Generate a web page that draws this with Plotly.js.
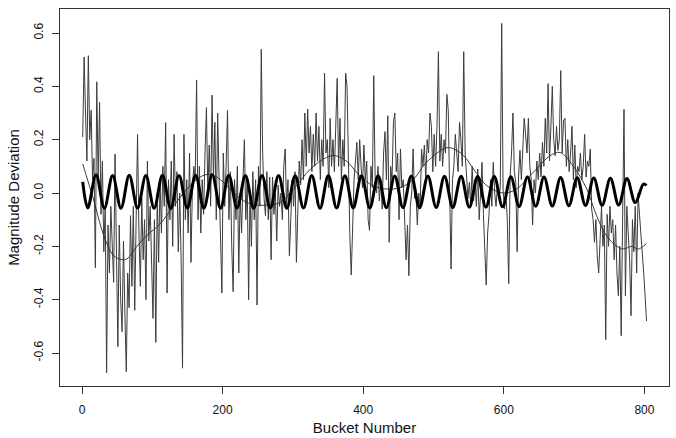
<!DOCTYPE html>
<html>
<head>
<meta charset="utf-8">
<script src="https://cdn.plot.ly/plotly-3.0.1.min.js"></script>
<style>html,body{margin:0;padding:0;background:#fff;}#chart{width:676px;height:438px;}</style>
</head>
<body>
<div id="chart"></div>
<script>
// Noisy magnitude deviation, sampled every 2nd bucket starting at bucket 1
const noisyStart = 1;
const noisyStep = 2;
const noisyY = [
 0.21, 0.51, 0.30, 0.12, 0.515, 0.20, 0.31, 0.05, 0.13, -0.28,
 0.417, 0.05, 0.34, -0.08, 0.12, -0.22, -0.05, -0.674, -0.12, -0.30,
 -0.05, -0.20, -0.335, 0.146, -0.28, -0.576, -0.12, -0.40, -0.52, -0.18,
 -0.45, -0.67, -0.30, -0.43, -0.085, -0.35, -0.05, -0.44, -0.10, 0.22,
 -0.15, -0.35, -0.02, -0.25, -0.10, -0.40, 0.12, -0.18, -0.05, -0.30,
 -0.47, -0.10, -0.56, 0.0, -0.26, 0.05, -0.15, 0.10, -0.05, 0.264,
 -0.375, 0.05, -0.10, 0.12, -0.20, 0.22, -0.05, 0.08, -0.22, 0.0,
 -0.25, -0.657, 0.22, -0.10, 0.05, -0.15, 0.15, -0.26, 0.02, 0.10,
 0.05, 0.424, -0.10, 0.10, -0.15, 0.05, -0.08, 0.15, 0.32, 0.0,
 0.18, -0.05, 0.367, 0.05, 0.265, -0.10, 0.30, 0.05, -0.15, -0.375,
 0.15, -0.05, 0.10, 0.31, -0.10, 0.08, -0.20, -0.37, 0.05, -0.10,
 0.10, -0.30, 0.0, -0.15, 0.05, 0.20, -0.10, 0.05, -0.40, 0.0,
 -0.20, 0.08, -0.10, 0.05, -0.42, 0.10, -0.05, 0.539, 0.15, -0.02,
 -0.085, 0.08, -0.10, 0.06, -0.25, 0.06, -0.08, 0.00, -0.18, 0.03,
 -0.05, 0.0, -0.10, 0.10, 0.165, -0.05, 0.05, -0.235, -0.10, 0.05,
 -0.05, 0.08, -0.26, -0.02, 0.12, 0.03, 0.20, 0.05, 0.30, 0.10,
 0.315, 0.15, 0.25, 0.08, 0.22, 0.10, 0.30, 0.12, 0.25, 0.05,
 0.20, 0.10, 0.45, 0.15, 0.20, 0.02, 0.28, 0.10, 0.20, 0.08,
 0.30, 0.43, 0.10, 0.28, 0.05, 0.20, 0.10, 0.45, 0.40, 0.10,
 -0.16, -0.307, -0.10, 0.05, 0.12, 0.19, 0.05, 0.20, 0.10, 0.02,
 0.18, 0.05, 0.12, -0.10, -0.14, 0.10, 0.02, 0.44, 0.05, 0.0,
 0.10, -0.03, 0.05, -0.06, 0.15, 0.23, 0.05, 0.29, -0.185, 0.10,
 0.05, 0.265, 0.30, 0.08, 0.15, -0.10, 0.165, 0.02, 0.05, -0.08,
 -0.25, -0.12, -0.31, -0.05, 0.0, 0.165, -0.02, 0.0, -0.12, 0.0,
 -0.06, 0.165, 0.10, 0.18, 0.05, 0.20, 0.15, 0.30, 0.25, 0.08,
 0.22, 0.10, 0.25, 0.53, 0.12, 0.22, 0.10, 0.20, 0.15, 0.37,
 0.31, 0.0, -0.285, 0.05, 0.10, 0.22, 0.15, 0.08, 0.265, 0.20,
 0.10, 0.53, 0.15, 0.05, -0.02, 0.04, -0.05, 0.10, -0.03, 0.05,
 -0.05, 0.09, -0.10, 0.0, 0.115, -0.08, -0.20, -0.345, -0.15, -0.08,
 0.05, -0.05, 0.115, 0.0, -0.05, 0.03, -0.02, 0.02, 0.636, 0.01,
 -0.06, 0.0, -0.10, -0.34, 0.06, 0.15, 0.30, 0.08, 0.04, -0.22,
 0.06, 0.16, 0.05, 0.20, 0.28, 0.22, 0.15, 0.28, 0.10, 0.05,
 -0.12, 0.05, 0.0, 0.12, 0.05, 0.15, 0.06, 0.19, 0.10, 0.28,
 0.15, 0.41, 0.12, 0.25, 0.40, 0.20, 0.14, 0.25, 0.16, 0.20,
 0.459, 0.15, 0.27, 0.28, 0.10, 0.20, 0.08, 0.15, 0.25, 0.05,
 0.18, 0.02, 0.10, 0.08, 0.15, 0.05, 0.10, 0.22, 0.06, 0.12,
 0.10, 0.165, -0.06, -0.10, -0.185, -0.10, -0.24, -0.30, -0.15, -0.05,
 -0.20, -0.12, -0.55, -0.08, -0.20, -0.05, -0.15, -0.10, -0.25, -0.12,
 -0.30, -0.385, -0.20, -0.535, -0.10, 0.314, -0.385, -0.05, -0.15, -0.25,
 -0.46, -0.10, -0.22, -0.05, -0.30, 0.0, -0.08, -0.15, -0.20, -0.30, -0.385, -0.48
];

// Smooth (low-frequency) fitted curve: bucket positions and values
const smoothX = [1, 17, 31, 45, 57, 64, 78, 92, 111, 130, 149, 168, 182, 197, 216, 234, 250, 265, 282, 301, 325, 348, 360, 376, 395, 414, 433, 452, 471, 490, 519, 533, 545, 557, 576, 600, 618, 642, 666, 680, 699, 718, 732, 746, 761, 770, 782, 791, 803];
const smoothY = [0.109, -0.03, -0.16, -0.235, -0.25, -0.247, -0.2, -0.16, -0.116, -0.05, 0.015, 0.06, 0.07, 0.05, 0.0, -0.035, -0.045, -0.045, -0.035, 0.015, 0.09, 0.134, 0.14, 0.12, 0.065, 0.027, 0.015, 0.02, 0.05, 0.115, 0.17, 0.16, 0.134, 0.09, 0.027, 0.0, 0.015, 0.078, 0.14, 0.152, 0.1, 0.015, -0.085, -0.16, -0.2, -0.21, -0.2, -0.21, -0.19];

// Periodic component: turning points (troughs/peaks)
const cycleX = [1, 8.2, 20, 31.8, 43.6, 55.4, 67.2, 79, 90.8, 102.6, 114.4, 126.2, 138, 149.8, 161.6, 173.4, 185.2, 197, 208.8, 220.6, 232.4, 244.2, 256, 267.8, 279.6, 291.4, 303.2, 315, 326.8, 338.6, 350.4, 362.2, 374, 385.8, 397.6, 409.4, 421.2, 433, 444.8, 456.6, 468.4, 480.2, 492, 503.8, 515.6, 527.4, 539.2, 551, 562.8, 574.6, 586.4, 598.2, 610, 621.8, 633.6, 645.4, 657.2, 669, 680.8, 692.6, 704.4, 716.2, 728, 739.8, 751.6, 763.4, 775.2, 787, 798.8, 803];
const cycleY = [0.042,
 -0.056, 0.068, -0.057, 0.066, -0.057, 0.067, -0.056, 0.066, -0.057, 0.067,
 -0.057, 0.066, -0.056, 0.067, -0.057, 0.068, -0.057, 0.067, -0.056, 0.066,
 -0.057, 0.066, -0.056, 0.066, -0.057, 0.065, -0.056, 0.066, -0.057, 0.066,
 -0.056, 0.065, -0.056, 0.065, -0.056, 0.065, -0.055, 0.064, -0.055, 0.064,
 -0.055, 0.064, -0.054, 0.063, -0.054, 0.063, -0.053, 0.062, -0.053, 0.062,
 -0.052, 0.061, -0.051, 0.060, -0.050, 0.060, -0.049, 0.058, -0.048, 0.057,
 -0.047, 0.056, -0.046, 0.055, -0.045, 0.054, -0.036, 0.034, 0.028];

const xTicks = [0, 200, 400, 600, 800];
const yTicks = [-0.6, -0.4, -0.2, 0.0, 0.2, 0.4, 0.6];
const yTickLabels = ['-0.6', '-0.4', '-0.2', '0.0', '0.2', '0.4', '0.6'];
const xTitle = 'Bucket Number';
const yTitle = 'Magnitude Deviation';

const noisyX = noisyY.map((_, i) => noisyStart + noisyStep * i);

const traces = [
  {x: noisyX, y: noisyY, type: 'scatter', mode: 'lines', line: {color: '#3c3c3c', width: 1}, hoverinfo: 'skip'},
  {x: smoothX, y: smoothY, type: 'scatter', mode: 'lines', line: {color: '#2a2a2a', width: 0.9, shape: 'spline', smoothing: 1}, hoverinfo: 'skip'},
  {x: cycleX, y: cycleY, type: 'scatter', mode: 'lines', line: {color: '#000000', width: 3, shape: 'spline', smoothing: 1}, hoverinfo: 'skip'}
];

const fontFam = 'Liberation Sans, Arial, Helvetica, sans-serif';
const layout = {
  width: 676, height: 438,
  margin: {l: 60, r: 7, t: 9, b: 52},
  paper_bgcolor: '#ffffff', plot_bgcolor: '#ffffff',
  showlegend: false,
  font: {family: fontFam, color: '#111', size: 12},
  xaxis: {
    range: [-31.3, 835], tickvals: xTicks, ticktext: xTicks.map(String),
    ticks: 'outside', ticklen: 7, tickwidth: 1, tickcolor: '#333',
    showline: true, mirror: true, linecolor: '#333', linewidth: 1,
    showgrid: false, zeroline: false, tickfont: {size: 12, color: '#111'},
    ticklabelstandoff: 6,
    title: {text: xTitle, font: {size: 15, color: '#111'}, standoff: 6}
  },
  yaxis: {
    range: [-0.7237, 0.69], tickvals: yTicks, ticktext: yTickLabels, tickangle: -90,
    ticks: 'outside', ticklen: 7, tickwidth: 1, tickcolor: '#333',
    showline: true, mirror: true, linecolor: '#333', linewidth: 1,
    showgrid: false, zeroline: false, tickfont: {size: 12, color: '#111'},
    ticklabelstandoff: 4,
    title: {text: yTitle, font: {size: 15, color: '#111'}, standoff: 8}
  }
};

Plotly.newPlot('chart', traces, layout, {staticPlot: true, displayModeBar: false});
</script>
</body>
</html>
